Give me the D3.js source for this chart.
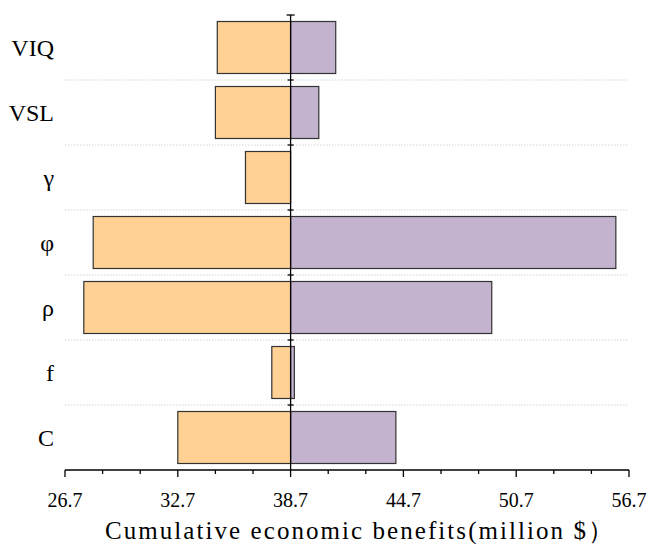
<!DOCTYPE html>
<html>
<head>
<meta charset="utf-8">
<script src="https://cdn.jsdelivr.net/npm/d3@7"></script>
<style>
  .serif { font-family: "Liberation Serif", Tinos, "Times New Roman", FreeSerif, "Noto Serif", "DejaVu Serif" !important; }
</style>
</head>
<body style="margin:0">
<svg id="chart" width="648" height="544"></svg>
<script>
// ---- data ----
const categories = ["VIQ", "VSL", "γ", "φ", "ρ", "f", "C"];
const lowValues  = [34.8, 34.7, 36.3, 28.2, 27.7, 37.7, 32.7];
const highValues = [41.1, 40.2, 38.7, 56.0, 49.4, 38.9, 44.3];
const baseValue = 38.7;
const tickValues = [26.7, 32.7, 38.7, 44.7, 50.7, 56.7];
const minorTickValues = d3.range(0, 16).map(i => +(26.7 + 2 * i).toFixed(1));
const xTitle = "Cumulative economic benefits(million $）";

// ---- layout ----
const svg = d3.select("#chart");
const mLeft = 65, mRight = 629, mTop = 15, mBottom = 470;
const SERIF = '"Liberation Serif", Tinos, "Times New Roman", FreeSerif, "Noto Serif", "DejaVu Serif"';

const x = d3.scaleLinear().domain([26.7, 56.7]).range([mLeft, mRight]);
const y = d3.scaleBand().domain(categories).range([mTop, mBottom])
  .paddingInner(0.2).paddingOuter(0.1);

// dotted separators
const step = y.step();
for (let i = 1; i < categories.length; i++) {
  const yy = mTop + i * step;
  svg.append("line")
    .attr("x1", mLeft).attr("x2", mRight)
    .attr("y1", yy).attr("y2", yy)
    .attr("stroke", "#d4d4d4").attr("stroke-width", 1)
    .attr("stroke-dasharray", "1.5,1.5");
}

const rows = categories.map((c, i) => ({ c, lo: lowValues[i], hi: highValues[i] }));

// low bars (orange)
svg.selectAll("rect.lo").data(rows).enter().append("rect")
  .attr("class", "lo")
  .attr("x", d => x(d.lo))
  .attr("y", d => y(d.c))
  .attr("width", d => x(baseValue) - x(d.lo))
  .attr("height", y.bandwidth())
  .attr("fill", "#FFD194")
  .attr("stroke", "#333")
  .attr("stroke-width", 1.2);

// high bars (purple)
svg.selectAll("rect.hi").data(rows.filter(d => d.hi > baseValue)).enter().append("rect")
  .attr("class", "hi")
  .attr("x", x(baseValue))
  .attr("y", d => y(d.c))
  .attr("width", d => x(d.hi) - x(baseValue))
  .attr("height", y.bandwidth())
  .attr("fill", "#C4B3CF")
  .attr("stroke", "#333")
  .attr("stroke-width", 1.2);

// central vertical axis
const cx = x(baseValue);
svg.append("line")
  .attr("x1", cx).attr("x2", cx).attr("y1", mTop).attr("y2", mBottom)
  .attr("stroke", "#000").attr("stroke-width", 1.3);
svg.append("line")
  .attr("x1", cx - 4).attr("x2", cx + 4).attr("y1", mTop).attr("y2", mTop)
  .attr("stroke", "#000").attr("stroke-width", 1.3);
for (let i = 1; i < categories.length; i++) {
  const yy = mTop + i * step;
  svg.append("line")
    .attr("x1", cx - 3).attr("x2", cx + 3).attr("y1", yy).attr("y2", yy)
    .attr("stroke", "#000").attr("stroke-width", 1.3);
}

// bottom axis
const gx = svg.append("g");
gx.append("line").attr("x1", mLeft).attr("x2", mRight).attr("y1", mBottom).attr("y2", mBottom)
  .attr("stroke", "#000").attr("stroke-width", 1.3);
gx.selectAll("line.tick").data(minorTickValues).enter().append("line")
  .attr("class", "tick")
  .attr("x1", d => x(d)).attr("x2", d => x(d))
  .attr("y1", mBottom).attr("y2", d => tickValues.some(t => Math.abs(t - d) < 1e-6) ? mBottom + 7 : mBottom + 4)
  .attr("stroke", "#000").attr("stroke-width", 1.3);
gx.selectAll("text").data(tickValues).enter().append("text")
  .attr("class", "serif")
  .attr("x", d => x(d)).attr("y", 507)
  .attr("text-anchor", "middle")
  .style("font-family", SERIF)
  .attr("font-size", 20)
  .text(d => d.toFixed(1));

// category labels
svg.selectAll("text.cat").data(categories).enter().append("text")
  .attr("class", "cat serif")
  .attr("x", 54)
  .attr("y", d => y(d) + y.bandwidth() / 2 + 8)
  .attr("text-anchor", "end")
  .style("font-family", SERIF)
  .attr("font-size", 24)
  .text(d => d);

// axis title
const title = svg.append("text")
  .attr("class", "serif")
  .attr("x", 105).attr("y", 539)
  .attr("text-anchor", "start")
  .style("font-family", SERIF)
  .attr("font-size", 25)
  .text(xTitle);
const natural = title.node().getComputedTextLength();
if (natural < 508) {
  title.attr("textLength", 508).attr("lengthAdjust", "spacing");
}
</script>
</body>
</html>
